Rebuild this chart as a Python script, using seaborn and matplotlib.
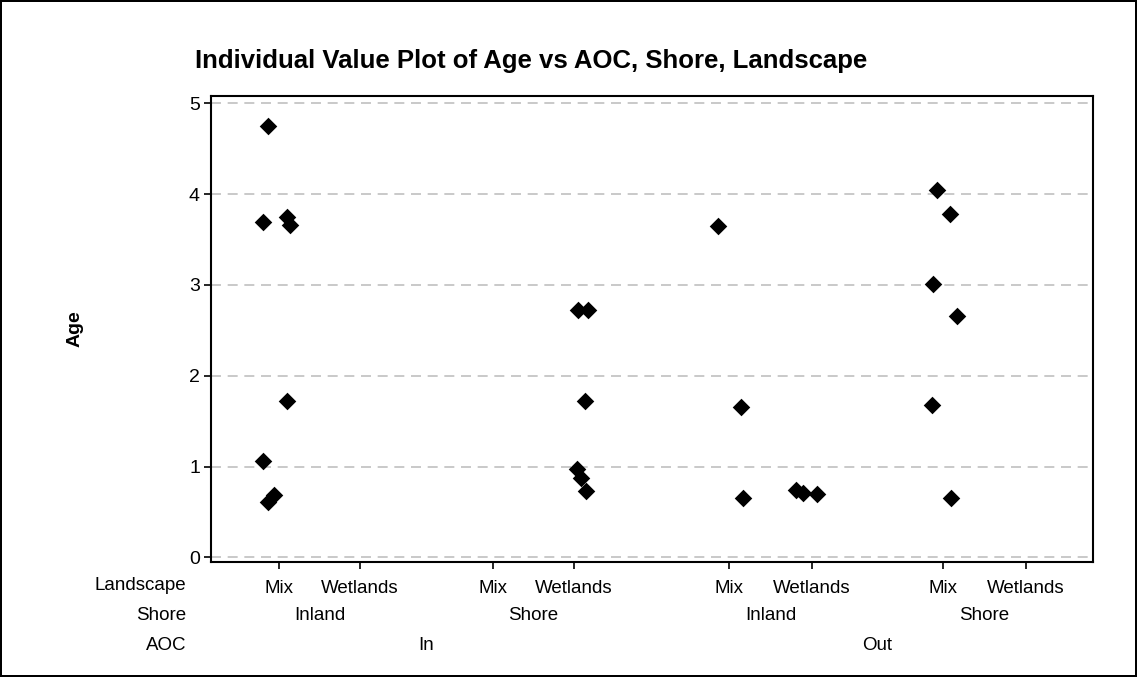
import pandas as pd
import matplotlib.pyplot as plt
import seaborn as sns

# values
aoc = ["In"] * 8 + ["In"] * 6 + ["Out"] * 3 + ["Out"] * 3 + ["Out"] * 6
shore = ["Inland"] * 8 + ["Shore"] * 6 + ["Inland"] * 3 + ["Inland"] * 3 + ["Shore"] * 6
landscape = ["Mix"] * 8 + ["Wetlands"] * 6 + ["Mix"] * 3 + ["Wetlands"] * 3 + ["Mix"] * 6
age = [4.75, 3.69, 3.75, 3.66, 1.72, 1.06, 0.69, 0.61,
       2.72, 2.72, 1.72, 0.97, 0.88, 0.73,
       3.65, 1.66, 0.66,
       0.74, 0.71, 0.70,
       4.04, 3.78, 3.01, 2.66, 1.68, 0.65]
# horizontal jitter of each point, as seen in the picture
jitter = [-0.14, -0.19, 0.10, 0.13, 0.10, -0.19, -0.06, -0.13,
          0.05, 0.17, 0.13, 0.03, 0.08, 0.15,
          -0.14, 0.15, 0.17,
          -0.19, -0.11, 0.06,
          -0.07, 0.08, -0.12, 0.17, -0.14, 0.10]

aoc_levels = ["In", "Out"]
shore_levels = ["Inland", "Shore"]
landscape_levels = ["Mix", "Wetlands"]
yticks = [0, 1, 2, 3, 4, 5]

# x position of each (AOC, Shore, Landscape) cell on the axis
cells = [(a, s, l) for a in aoc_levels for s in shore_levels for l in landscape_levels]
cell_pos = [0, 0.99, 2.61, 3.60, 5.49, 6.50, 8.10, 9.11]
pos_map = dict(zip(cells, cell_pos))

df = pd.DataFrame({"AOC": aoc, "Shore": shore, "Landscape": landscape,
                   "Age": age, "jitter": jitter})
df["x"] = [pos_map[(a, s, l)] for a, s, l in zip(df["AOC"], df["Shore"], df["Landscape"])] + df["jitter"]

sns.set_style("white")
plt.rcParams["font.family"] = ["Liberation Sans", "DejaVu Sans"]
plt.rcParams["text.color"] = "black"
plt.rcParams["axes.labelcolor"] = "black"
plt.rcParams["xtick.color"] = "black"
plt.rcParams["ytick.color"] = "black"

W, H = 1137, 677
fig = plt.figure(figsize=(W / 100, H / 100), dpi=100)
fig.patch.set_edgecolor("black")
fig.patch.set_linewidth(1.5)
ax = fig.add_axes([211 / W, 1 - 562 / H, (1093 - 211) / W, (562 - 96) / H])

sns.scatterplot(data=df, x="x", y="Age", marker="D", color="black", s=80,
                edgecolor="black", linewidth=0, ax=ax, zorder=3)

ax.set_xlim(-0.83, 9.93)
ax.set_ylim(-0.05, 5.08)
ax.set_yticks(yticks)
for y in yticks:
    ax.axhline(y, color="#c0c0c0", lw=1.2, ls=(0, (6, 4)), zorder=1)

ax.set_xticks(cell_pos)
ax.set_xticklabels([c[2] for c in cells])
ax.tick_params(axis="x", direction="out", length=5, width=1.2, pad=8, labelsize=13.5)
ax.tick_params(axis="y", direction="out", length=5, width=1.2, pad=3, labelsize=14)
ax.tick_params(bottom=True, left=True)
for sp in ax.spines.values():
    sp.set_linewidth(1.5)
    sp.set_color("black")
ax.set_xlabel("")
ax.set_ylabel("Age", fontsize=14, fontweight="bold", labelpad=76)

# row labels and group labels below the axis
fs = 13.5
fig.text(186 / W, 1 - 586 / H, "Landscape", ha="right", va="center", fontsize=fs)
fig.text(186 / W, 1 - 616 / H, "Shore", ha="right", va="center", fontsize=fs)
fig.text(186 / W, 1 - 646 / H, "AOC", ha="right", va="center", fontsize=fs)
trans = ax.get_xaxis_transform()
for i, a in enumerate(aoc_levels):
    for j, s in enumerate(shore_levels):
        k = i * 4 + j * 2
        mid = (cell_pos[k] + cell_pos[k + 1]) / 2
        ax.text(mid, -(616 - 562) / (562 - 96), s, transform=trans,
                ha="center", va="center", fontsize=fs)
    mid = (cell_pos[i * 4] + cell_pos[i * 4 + 3]) / 2
    ax.text(mid, -(646 - 562) / (562 - 96), a, transform=trans,
            ha="center", va="center", fontsize=fs)

fig.text(531 / W, 1 - 61 / H, "Individual Value Plot of Age vs AOC, Shore, Landscape",
         ha="center", va="center", fontsize=18.5, fontweight="bold")

plt.savefig("out.png", dpi=100)
